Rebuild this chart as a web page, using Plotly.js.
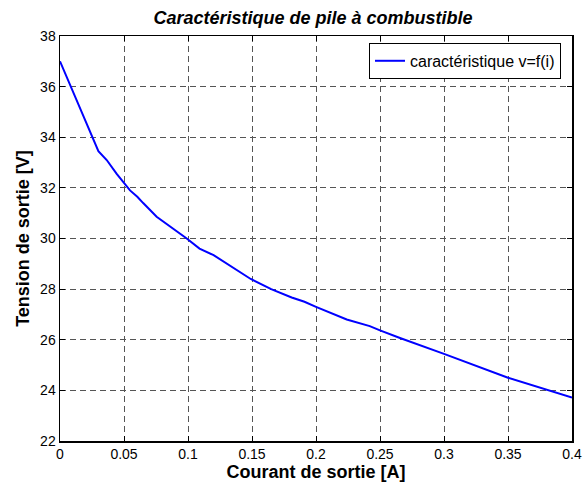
<!DOCTYPE html>
<html>
<head>
<meta charset="utf-8">
<script src="https://cdn.plot.ly/plotly-3.0.1.min.js"></script>
<style>html,body{margin:0;padding:0;background:#fff;}#chart{width:583px;height:486px;}</style>
</head>
<body>
<div id="chart"></div>
<script>
var courant = [0, 0.0085, 0.0254, 0.03, 0.0365, 0.0443, 0.0547, 0.0604, 0.065, 0.0755, 0.099, 0.109, 0.12, 0.1328, 0.149, 0.165, 0.181, 0.191, 0.2, 0.224, 0.242, 0.25, 0.2656, 0.3, 0.35, 0.4];
var tension = [37, 36, 34, 33.45, 33.1, 32.55, 31.9, 31.65, 31.4, 30.86, 30.0, 29.6, 29.34, 28.92, 28.4, 28.0, 27.67, 27.5, 27.3, 26.8, 26.54, 26.37, 26.07, 25.44, 24.5, 23.72];
var xTicks = [0, 0.05, 0.1, 0.15, 0.2, 0.25, 0.3, 0.35, 0.4];
var xTickLabels = ['0', '0.05', '0.1', '0.15', '0.2', '0.25', '0.3', '0.35', '0.4'];
var yTicks = [22, 24, 26, 28, 30, 32, 34, 36, 38];
var seriesName = 'caractéristique v=f(i)';

var font = 'Arial, "Liberation Sans", sans-serif';
var trace = {
  x: courant, y: tension, type: 'scatter', mode: 'lines',
  name: seriesName,
  line: {color: '#0000ff', width: 2}
};
var axisCommon = {
  showline: true, mirror: 'ticks', linecolor: '#000', linewidth: 1.5,
  ticks: 'inside', ticklen: 5, tickcolor: '#000', tickwidth: 1,
  showgrid: true, gridcolor: '#555', griddash: '6px,4px', gridwidth: 1,
  zeroline: false,
  tickfont: {family: font, size: 14, color: '#000'}
};
var layout = {
  width: 583, height: 486,
  paper_bgcolor: '#fff', plot_bgcolor: '#fff',
  margin: {l: 60, r: 11, t: 36, b: 45},
  showlegend: true,
  title: {text: '<b><i>Caractéristique de pile à combustible</i></b>', font: {family: font, size: 18, color: '#000'}, x: 0.537, xanchor: 'center', y: 0.963, yanchor: 'middle'},
  xaxis: Object.assign({}, axisCommon, {
    range: [0, 0.4], tickvals: xTicks, ticktext: xTickLabels,
    title: {text: '<b>Courant de sortie [A]</b>', font: {family: font, size: 18, color: '#000'}, standoff: 2}
  }),
  yaxis: Object.assign({}, axisCommon, {
    range: [22, 38], tickvals: yTicks,
    title: {text: '<b>Tension de sortie [V]</b>', font: {family: font, size: 18, color: '#000'}, standoff: 6}
  }),
  legend: {
    x: 0.9785, xanchor: 'right', y: 0.983, yanchor: 'top',
    bgcolor: '#fff', bordercolor: '#000', borderwidth: 1,
    font: {family: font, size: 16, color: '#000'}
  }
};
Plotly.newPlot('chart', [trace], layout, {displayModeBar: false, staticPlot: true});
</script>
</body>
</html>
